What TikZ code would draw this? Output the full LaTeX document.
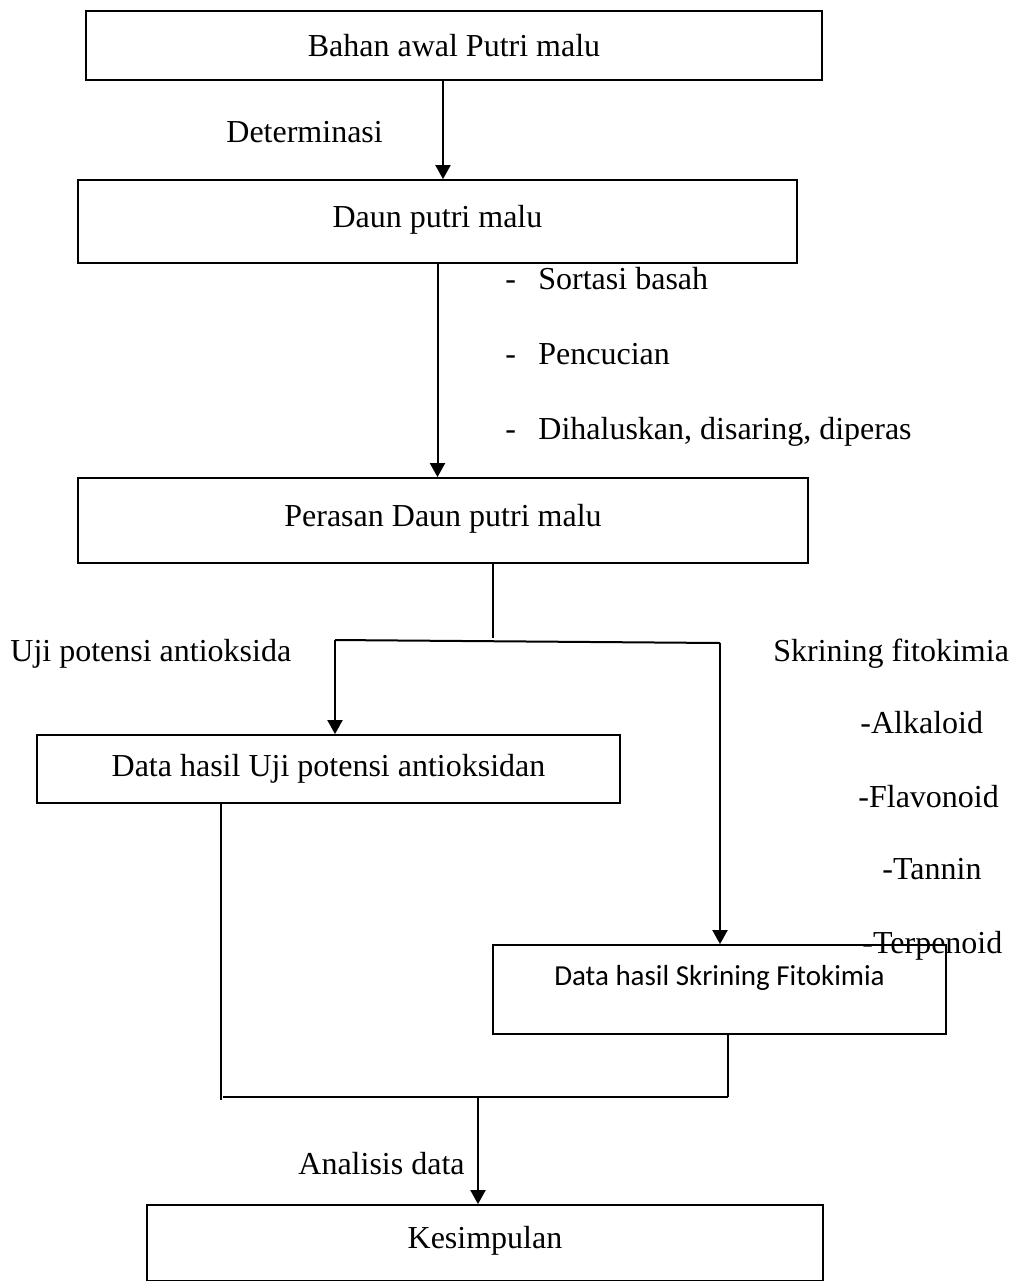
\documentclass[tikz,border=0pt]{standalone}
\usepackage{fontspec}
\setmainfont{Liberation Serif}
\newfontfamily\calib{Carlito}
\usetikzlibrary{arrows.meta}
\begin{document}
\begin{tikzpicture}[x=0.5pt,y=-0.5pt,
  every node/.style={font=\fontsize{16}{19}\selectfont},
  box/.style={draw,line width=0.9pt,inner sep=0pt,align=center},
  lbl/.style={inner sep=0pt,anchor=west,text height=11pt,text depth=3.5pt},
  conn/.style={line width=1pt},
  arr/.style={line width=1pt,-{Triangle[length=7pt,width=7.5pt]}}]
\useasboundingbox (0,0) rectangle (1017,1281);
% boxes
\node[box,minimum width=368pt,minimum height=34.5pt] (b1) at (454,45.5) {Bahan awal Putri malu};
\node[box,minimum width=359.5pt,minimum height=41.5pt,text depth=5pt] (b2) at (437.5,221.5) {Daun putri malu};
\node[box,minimum width=365pt,minimum height=42.5pt,text depth=5pt] (b3) at (443,520.5) {Perasan Daun putri malu};
\node[box,minimum width=291.5pt,minimum height=34pt] (b4) at (328.5,769) {Data hasil Uji potensi antioksidan};
\node[box,minimum width=226.5pt,minimum height=44.5pt,text depth=14pt,font=\calib\fontsize{14.5}{17}\selectfont] (b5) at (719.5,989.5) {Data hasil Skrining Fitokimia};
\node[box,minimum width=338pt,minimum height=38pt,text depth=6pt] (b6) at (485,1243) {Kesimpulan};
% labels
\node[lbl] (l1) at (226,135) {Determinasi};
\node[lbl] (d1) at (505,282) {-};
\node[lbl] (l2) at (538,282) {Sortasi basah};
\node[lbl] (d2) at (505,357) {-};
\node[lbl] (l3) at (538,357) {Pencucian};
\node[lbl] (d3) at (505,432) {-};
\node[lbl] (l4) at (538,432) {Dihaluskan, disaring, diperas};
\node[lbl] (l5) at (10,654) {Uji potensi antioksida};
\node[lbl] (l6) at (773,654) {Skrining fitokimia};
\node[lbl] (l7) at (860,726) {-Alkaloid};
\node[lbl] (l8) at (858,800) {-Flavonoid};
\node[lbl] (l9) at (882,872) {-Tannin};
\node[lbl] (l10) at (862,946) {-Terpenoid};
\node[lbl] (l11) at (298,1167) {Analisis data};
% coordinates
\coordinate (a1) at (443,0);
\coordinate (a3) at (493,0);
\coordinate (j) at (493,638);
\coordinate (jl) at (335,640);
\coordinate (jr) at (720,643);
\coordinate (a4) at (221,0);
\coordinate (a5) at (728,0);
\coordinate (bl) at (221,1100);
\coordinate (hl) at (223,1097);
\coordinate (hr) at (728,1097);
\coordinate (hm) at (478,1097);
% connectors
\draw[arr] (a1 |- b1.south) -- (a1 |- b2.north);
\draw[arr] (b2.south) -- (b2.south |- b3.north);
\draw[conn] (a3 |- b3.south) -- (j);
\draw[conn] (jl) -- (jr);
\draw[arr] (jl) -- (jl |- b4.north);
\draw[arr] (jr) -- (jr |- b5.north);
\draw[conn] (a4 |- b4.south) -- (bl);
\draw[conn] (hl) -- (hr);
\draw[conn] (a5 |- b5.south) -- (hr);
\draw[arr] (hm) -- (hm |- b6.north);
\end{tikzpicture}
\end{document}
